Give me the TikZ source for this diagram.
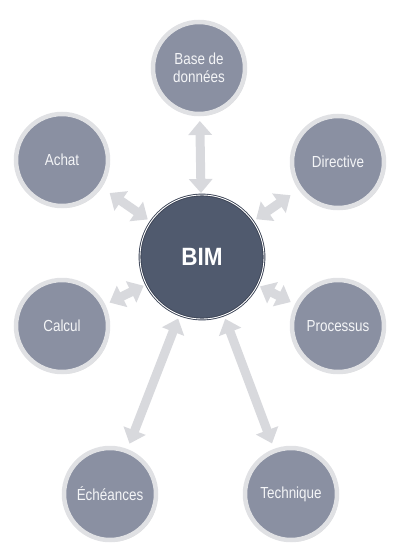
\documentclass[tikz,border=0pt]{standalone}
\usepackage{fontspec}
\setmainfont{Liberation Sans}
\newfontfamily\condfont[FakeStretch=0.84]{Liberation Sans}
\newfontfamily\bimfont[FakeStretch=0.9]{Liberation Sans}
\usetikzlibrary{arrows.meta,shadows}
\definecolor{outfill}{HTML}{8A90A2}
\definecolor{outring}{HTML}{E0E1E4}
\definecolor{bimfill}{HTML}{505A6E}
\definecolor{bimedge}{HTML}{3A4254}
\definecolor{arrgray}{HTML}{D8D9DD}
\definecolor{txtwhite}{HTML}{F4F5F7}
\begin{document}
\begin{tikzpicture}[x=1pt,y=-1pt,
  topic/.style={circle,minimum size=92pt,inner sep=0pt,outer sep=0pt,
    fill=outfill,draw=outring,line width=4.5pt,
    drop shadow={shadow xshift=1.5pt,shadow yshift=-2pt,opacity=0.22,fill=black!60},
    text=txtwhite,font=\condfont\fontsize{16}{18}\selectfont,align=center},
  hub/.style={circle,minimum size=124pt,inner sep=0pt,outer sep=0pt,
    fill=bimfill,draw=bimedge,double=white,double distance=0.9pt,line width=0.9pt,
    text=white,font=\bimfont\bfseries\fontsize{25}{28}\selectfont},
  link/.style={draw=arrgray,line width=9pt,
    {Triangle[width=23pt,length=14pt]}-{Triangle[width=23pt,length=14pt]}}
]
\useasboundingbox (0,0) rectangle (400,551);
\node[hub] (bim) at (202,257) {BIM};
\node[topic] (base) at (199,68) {Base de\\données};
\node[topic] (achat) at (62,160) {Achat};
\node[topic] (dir) at (338,162) {Directive};
\node[topic] (calc) at (62,326) {Calcul};
\node[topic] (proc) at (338,326) {Processus};
\node[topic] (ech) at (110,494) {Échéances};
\node[topic] (tech) at (291,494) {Technique};
\draw[link,shorten <=7pt,shorten >=2pt] (base) -- (bim);
\draw[link,shorten <=12pt,shorten >=4pt] (achat) -- (bim);
\draw[link,shorten <=12pt,shorten >=4pt] (dir) -- (bim);
\draw[link,shorten <=7pt,shorten >=3pt] (calc) -- (bim);
\draw[link,shorten <=7pt,shorten >=3pt] (proc) -- (bim);
\draw[link,shorten <=8pt,shorten >=4pt] (ech) -- (bim);
\draw[link,shorten <=8pt,shorten >=4pt] (tech) -- (bim);
\end{tikzpicture}
\end{document}
